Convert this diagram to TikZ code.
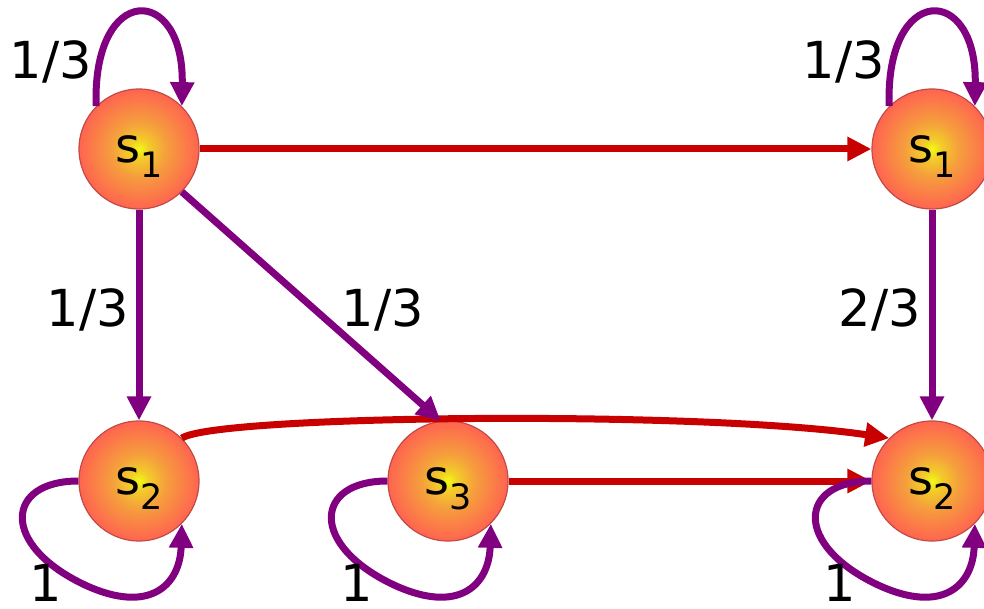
\documentclass[tikz,border=0pt]{standalone}
\usepackage{fontspec}
\setmainfont{DejaVu Sans}
\usepackage{xcolor}
\usetikzlibrary{arrows.meta}

\definecolor{chainpurple}{RGB}{128,0,128}
\definecolor{chainred}{RGB}{200,0,0}
\definecolor{ballrim}{RGB}{195,75,70}
\definecolor{ballcore}{RGB}{240,250,20}
\definecolor{ballmid}{RGB}{245,160,60}
\definecolor{ballout}{RGB}{255,100,80}

\pgfdeclareradialshading{ballshade}{\pgfpoint{0bp}{0bp}}{color(0bp)=(ballcore); color(4bp)=(ballmid!50!ballcore); color(11bp)=(ballmid); color(25bp)=(ballout); color(50bp)=(ballout)}

\tikzset{
  statenode/.style={circle, minimum size=120pt, inner sep=0pt, draw=ballrim, line width=1.2pt, shade, shading=ballshade, font=\fontsize{48}{48}\selectfont},
  pline/.style={chainpurple, line width=7pt, -{Triangle[length=24pt,width=23pt]}},
  rline/.style={chainred, line width=7pt, -{Triangle[length=24pt,width=23pt]}},
  problabel/.style={font=\fontsize{51}{51}\selectfont, inner sep=0pt}
}
\newcommand{\stname}[2]{#1\raisebox{-15pt}[0pt][0pt]{\fontsize{35}{35}\selectfont #2}}

\begin{document}
\begin{tikzpicture}[x=1pt,y=-1pt]
        \useasboundingbox (0,0) rectangle (984,609);

        % states
        \node[statenode] (A) at (139,149) {\stname{s}{1}};
        \node[statenode] (B) at (932,149) {\stname{s}{1}};
        \node[statenode] (C) at (139,481) {\stname{s}{2}};
        \node[statenode] (D) at (448,481) {\stname{s}{3}};
        \node[statenode] (E) at (932,481) {\stname{s}{2}};

        % red transitions
        \draw[rline] (A.east) -- (B.west);
        \draw[rline] (D.east) -- (E.west);
        \draw[rline] (C.45) .. controls (215,415) and (700,410) .. (E.135);

        % purple transitions
        \draw[pline] (A.south) -- (C.north);
        \draw[pline] (A.-45) -- (D.97);
        \draw[pline] (B.south) -- (E.north);

        \foreach \s in {A,B}
          \draw[pline, shift={(\s)}] (\s.135) .. controls (-47,-166) and (45,-166) .. (\s.45);

        \foreach \s in {C,D,E}
          \draw[pline, shift={(\s)}] (\s.180) .. controls (-134,0) and (-139,64) .. (-54,104)
            .. controls (11,134) and (41,104) .. (\s.-45);

        % probabilities
        \node[problabel] (pAA) at (51,62) {1/3};
        \node[problabel] (pBB) at (844,62) {1/3};
        \node[problabel] (pAC) at (88,310) {1/3};
        \node[problabel] (pAD) at (383,310) {1/3};
        \node[problabel] (pBE) at (880,310) {2/3};
        \node[problabel] (pCC) at (46,583) {1};
        \node[problabel] (pDD) at (357,583) {1};
        \node[problabel] (pEE) at (840,583) {1};

\end{tikzpicture}
\end{document}
